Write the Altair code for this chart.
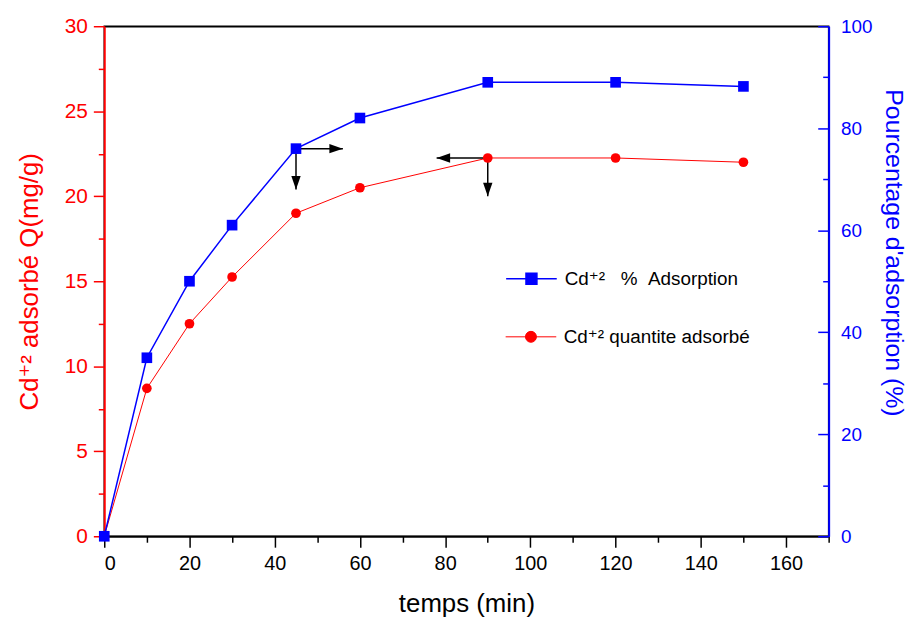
import altair as alt
import pandas as pd

# ---- data ----
time_min = [0, 10, 20, 30, 45, 60, 90, 120, 150]
pct_adsorption = [0, 35, 50, 61, 76, 82, 89, 89, 88.2]
q_adsorbed = [0, 8.7, 12.5, 15.25, 19.0, 20.5, 22.25, 22.25, 22.0]

# arrows (in Q units on the left scale)
arrow_x_start = [45, 45, 90, 90]
arrow_y_start = [22.8, 22.8, 22.25, 22.25]
arrow_x_end = [56, 45, 78, 90]
arrow_y_end = [22.8, 20.4, 22.25, 20.0]
arrow_dir = ["right", "down", "left", "down"]

x_major = [0, 20, 40, 60, 80, 100, 120, 140, 160]
x_minor = [10, 30, 50, 70, 90, 110, 130, 150, 170]
q_major = [0, 5, 10, 15, 20, 25, 30]
q_minor = [2.5, 7.5, 12.5, 17.5, 22.5, 27.5]
pct_major = [0, 20, 40, 60, 80, 100]
pct_minor = [10, 30, 50, 70, 90]

label_pct = "Cd\u207a\u00b2\u00a0\u00a0\u00a0%\u00a0\u00a0Adsorption"
label_q = "Cd\u207a\u00b2 quantite adsorbé"

RED = "#ff0000"
BLUE = "#0000ff"
FONT = "Liberation Sans, Arial, DejaVu Sans"
W, H = 730, 514

df = pd.DataFrame({"t": time_min, "pct": pct_adsorption, "q": q_adsorbed})
arr = pd.DataFrame({"x": arrow_x_start, "y": arrow_y_start,
                    "x2": arrow_x_end, "y2": arrow_y_end, "dir": arrow_dir})

xs = alt.Scale(domain=[0, 170], nice=False, zero=False)
yq = alt.Scale(domain=[0, 30], nice=False)
yp = alt.Scale(domain=[0, 100], nice=False)

x_main_axis = alt.Axis(orient="bottom", values=x_major, tickSize=11, tickWidth=1.5,
                       tickColor="black", domainColor="black", domainWidth=2,
                       labelColor="black", labelFontSize=20, labelPadding=6,
                       title="temps (min)", titleFontSize=26, titleFontWeight="normal",
                       titleColor="black", titlePadding=18, grid=False)
x_minor_axis = alt.Axis(orient="bottom", values=x_minor, tickSize=6, tickWidth=1.5,
                        tickColor="black", labels=False, domain=False, title=None, grid=False)
top_axis = alt.Axis(orient="top", ticks=False, tickSize=0, labels=False,
                    domainColor="black", domainWidth=1.5, title=None, grid=False)
left_axis = alt.Axis(orient="left", values=q_major, tickSize=11, tickWidth=1.5,
                     tickColor=RED, domainColor=RED, domainWidth=2,
                     labelColor=RED, labelFontSize=21, labelPadding=6,
                     title="Cd\u207a\u00b2 adsorbé Q(mg/g)", titleColor=RED,
                     titleFontSize=26, titleFontWeight="normal", titlePadding=22, grid=False)
left_minor_axis = alt.Axis(orient="left", values=q_minor, tickSize=6, tickWidth=1.5,
                           tickColor=RED, labels=False, domain=False, title=None, grid=False)
right_axis = alt.Axis(orient="right", values=pct_major, ticks=False, tickSize=0,
                      domainColor=BLUE, domainWidth=2, labelColor=BLUE, labelFontSize=19,
                      labelPadding=12, title="Pourcentage d'adsorption (%)", titleColor=BLUE,
                      titleFontSize=25, titleFontWeight="normal", titlePadding=9,
                      titleY=228, grid=False)
right_in_major = alt.Axis(orient="left", offset=-W, values=pct_major, tickSize=11,
                          tickWidth=1.5, tickColor=BLUE, labels=False, domain=False,
                          title=None, grid=False)
right_in_minor = alt.Axis(orient="left", offset=-W, values=pct_minor, tickSize=6,
                          tickWidth=1.5, tickColor=BLUE, labels=False, domain=False,
                          title=None, grid=False)

sq_path = "M-1,0L1,0M-0.216,-0.216L0.216,-0.216L0.216,0.216L-0.216,0.216Z"
ci_path = "M-1,0L1,0M-0.216,0A0.216,0.216 0 1 0 0.216,0A0.216,0.216 0 1 0 -0.216,0Z"

base = alt.Chart(df)

red_line = base.mark_line(color=RED, strokeWidth=1).encode(
    x=alt.X("t:Q", scale=xs, axis=x_main_axis),
    y=alt.Y("q:Q", scale=yq, axis=left_axis))
red_pts = base.transform_calculate(series=f"'{label_q}'").mark_point(
    shape="circle", filled=True, size=95, opacity=1).encode(
    x=alt.X("t:Q", scale=xs, axis=None),
    y=alt.Y("q:Q", scale=yq, axis=None),
    color=alt.Color("series:N", scale=alt.Scale(range=[RED]),
                    legend=alt.Legend(orient="none", legendX=404, legendY=287, title=None,
                                      symbolType=ci_path, symbolSize=2601,
                                      symbolStrokeColor=RED, symbolStrokeWidth=1,
                                      labelFontSize=19, labelOffset=7, padding=0,
                                      labelLimit=0, labelFont=FONT, labelColor="black")))
blue_line = base.mark_line(color=BLUE, strokeWidth=1.5).encode(
    x=alt.X("t:Q", scale=xs, axis=x_minor_axis),
    y=alt.Y("pct:Q", scale=yp, axis=right_axis))
blue_pts = base.transform_calculate(series=f"'{label_pct}'").mark_point(
    shape="square", filled=True, size=115, opacity=1).encode(
    x=alt.X("t:Q", scale=xs, axis=None),
    y=alt.Y("pct:Q", scale=yp, axis=None),
    color=alt.Color("series:N", scale=alt.Scale(range=[BLUE]),
                    legend=alt.Legend(orient="none", legendX=404, legendY=228, title=None,
                                      symbolType=sq_path, symbolSize=2601,
                                      symbolStrokeColor=BLUE, symbolStrokeWidth=1.5,
                                      labelFontSize=19, labelOffset=7, padding=0,
                                      labelLimit=0, labelFont=FONT, labelColor="black")))
carrier1 = base.mark_point(opacity=0).encode(
    x=alt.X("t:Q", scale=xs, axis=top_axis),
    y=alt.Y("q:Q", scale=yq, axis=left_minor_axis))
carrier2 = base.mark_point(opacity=0).encode(
    x=alt.X("t:Q", scale=xs, axis=None),
    y=alt.Y("pct:Q", scale=yp, axis=right_in_major))
carrier3 = base.mark_point(opacity=0).encode(
    x=alt.X("t:Q", scale=xs, axis=None),
    y=alt.Y("pct:Q", scale=yp, axis=right_in_minor))

shafts = alt.Chart(arr).mark_rule(color="black", strokeWidth=1.5).encode(
    x=alt.X("x:Q", scale=xs, axis=None),
    y=alt.Y("y:Q", scale=yq, axis=None),
    x2="x2:Q", y2="y2:Q")
heads = alt.Chart(arr).mark_point(filled=True, color="black", opacity=1, size=110).encode(
    x=alt.X("x2:Q", scale=xs, axis=None),
    y=alt.Y("y2:Q", scale=yq, axis=None),
    shape=alt.Shape("dir:N", scale=alt.Scale(
        domain=["right", "down", "left"],
        range=["M0,0L-2.6,-0.9L-2.6,0.9Z", "M0,0L-0.9,-2.6L0.9,-2.6Z", "M0,0L2.6,-0.9L2.6,0.9Z"]),
        legend=None))

chart = alt.layer(
    carrier1, carrier2, carrier3, red_line, blue_line, shafts, heads, red_pts, blue_pts
).resolve_scale(y="independent", color="independent").resolve_axis(
    x="independent", y="independent"
).properties(
    width=W, height=H,
    padding={"left": 97, "top": 16, "right": 84, "bottom": 80},
    autosize=alt.AutoSizeParams(type="none"),
).configure(font=FONT).configure_view(stroke="black", strokeWidth=1.5)

chart.save("out.html", embed_options={"renderer": "svg", "actions": False})
